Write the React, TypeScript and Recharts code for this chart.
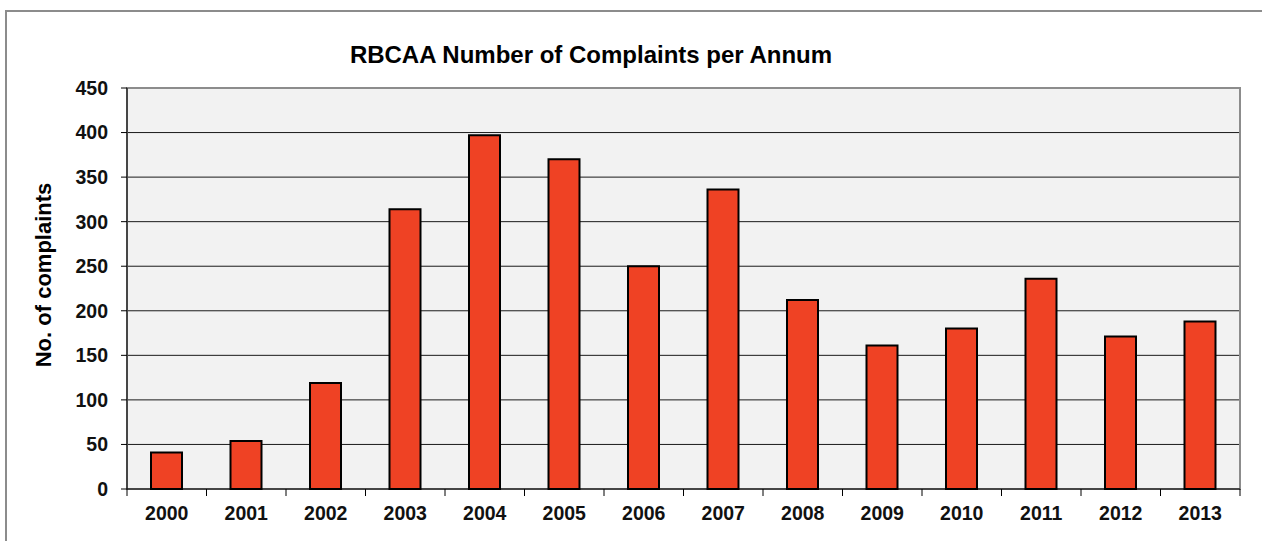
import { BarChart, Bar, XAxis, YAxis, CartesianGrid, ReferenceArea } from 'recharts';

const years = ['2000', '2001', '2002', '2003', '2004', '2005', '2006', '2007', '2008', '2009', '2010', '2011', '2012', '2013'];
const complaints = [41, 54, 119, 314, 397, 370, 250, 336, 212, 161, 180, 236, 171, 188];
const yTicks = [0, 50, 100, 150, 200, 250, 300, 350, 400, 450];

const data = years.map((year, i) => ({ year, complaints: complaints[i] }));

const font = '"Liberation Sans", Arial, sans-serif';
const TICK_MARGIN = 17;

// category label plus the small tick marks that sit on the category boundaries
function YearTick(props: any) {
  const { x, y, width, visibleTicksCount, index, payload } = props;
  const half = width / visibleTicksCount / 2;
  const top = y - TICK_MARGIN;
  return (
    <g>
      <line x1={x - half} x2={x - half} y1={top} y2={top + 7} stroke="#000" />
      {index === visibleTicksCount - 1 && <line x1={x + half} x2={x + half} y1={top} y2={top + 7} stroke="#000" />}
      <text x={x} y={y} dy="0.72em" textAnchor="middle" fill="#111" fontSize={19.5} fontWeight="bold" fontFamily={font}>
        {payload.value}
      </text>
    </g>
  );
}

export default function App() {
  return (
    <div style={{ position: 'absolute', left: 0, top: 0, width: 1262, height: 541, background: '#fff', overflow: 'hidden', fontFamily: font }}>
      <div style={{ position: 'absolute', left: 5, top: 10, width: 1270, height: 545, border: '2px solid #8c8c8c' }} />
      <div style={{ position: 'absolute', left: 0, width: 1182, top: 41, textAlign: 'center', fontSize: 24, fontWeight: 'bold', color: '#000' }}>
        RBCAA Number of Complaints per Annum
      </div>
      <div
        style={{
          position: 'absolute', left: 44, top: 275, transform: 'translate(-50%, -50%) rotate(-90deg)',
          whiteSpace: 'nowrap', fontSize: 22, fontWeight: 'bold', color: '#000',
        }}
      >
        No. of complaints
      </div>
      <div style={{ position: 'absolute', left: 0, top: 0 }}>
        <BarChart width={1262} height={541} data={data} margin={{ top: 88, right: 22, bottom: 12, left: 47 }}>
          <CartesianGrid vertical={false} fill="#f2f2f2" stroke="#1a1a1a" strokeOpacity={1} />
          <ReferenceArea y1={0} y2={450} fill="none" stroke="#8c8c8c" strokeWidth={2} fillOpacity={0} />
          <XAxis
            dataKey="year"
            height={40}
            tickLine={false}
            tickSize={0}
            axisLine={{ stroke: '#000' }}
            tickMargin={TICK_MARGIN}
            tick={<YearTick />}
            interval={0}
          />
          <YAxis
            domain={[0, 450]}
            ticks={yTicks}
            width={80}
            axisLine={{ stroke: '#000' }}
            tickLine={{ stroke: '#000' }}
            tickSize={6}
            tickMargin={13}
            tick={{ fill: '#111', fontSize: 19.5, fontWeight: 'bold', fontFamily: font }}
            interval={0}
          />
          <Bar dataKey="complaints" fill="#ef4224" stroke="#000" strokeWidth={2} barSize={31} isAnimationActive={false} />
        </BarChart>
      </div>
    </div>
  );
}
